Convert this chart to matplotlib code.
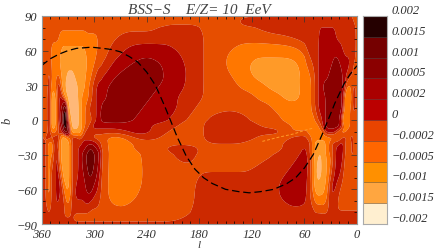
import numpy as np
import matplotlib
matplotlib.use('Agg')
import matplotlib.pyplot as plt

plt.rcParams['font.family'] = ['Liberation Serif', 'DejaVu Serif']
plt.rcParams['font.style'] = 'italic'

# levels of the contour map and their colours (map and colour bar differ a bit)
levels = [-0.002, -0.0015, -0.001, -0.0005, -0.0002, 0, 0.0002, 0.0005, 0.001, 0.0015, 0.002]
level_labels = ['\u22120.002', '\u22120.0015', '\u22120.001', '\u22120.0005', '\u22120.0002', '0',
                '0.0002', '0.0005', '0.001', '0.0015', '0.002']
map_colors = ['#FFEFD0', '#FFB878', '#FF9A28', '#FF7700', '#E64E00', '#CC2900', '#AA0000', '#8B0000', '#6B0000', '#250000']
bar_colors = ['#FFEFD0', '#FFA640', '#FF9000', '#FF6600', '#E84400', '#BB0000', '#AA0000', '#8B0000', '#750000', '#250000']

# longitude and latitude of the table below
map_l = [360, 357, 354, 351, 348, 345, 342, 339, 336, 333, 330, 327, 324, 320, 316, 312, 308, 304, 300, 295, 290,
         280, 270, 260, 250, 240, 230, 220, 210, 200, 190, 180, 170, 160, 150, 140, 130, 120, 110, 100, 90, 80, 70,
         60, 55, 50, 46, 42, 38, 34, 30, 26, 22, 18, 14, 10, 6, 3, 0]
map_b = [90, 85, 80, 70, 60, 50, 40, 30, 20, 10, 0, -5, -10, -15, -20, -25, -30, -40, -50, -60, -70, -80, -85, -90]

# anisotropy, in units of 1e-4, one row per latitude
map_values = [
    [-1]*59,
    [-1]*21 + [-1]*14 + [1, 1.5, 2, 2, 2, 2, 2, 2] + [2]*14 + [-1, -1],
    [1] + [-1]*20 + [-1]*6 + [1]*5 + [-1]*5 + [-.6, -.2] + [1.5]*4 + [1.5]*15 + [-1],
    [1, -1, -1, -1, -1, -1, -1, -3, -3, -3, -3, -3, -3, -3, -3, -3, -3, -3, -3, -3, -1,
     -1, 1, 1, 1, 1, 1, 1, 1, 1, 1, 1, -1, -1, -1, -1, -1, -1, -1, -1, -1, -.2, 1,
     1, 1, 1, 1, 3, 3, 3, 3, 3, 1, 1, 1, 1, 1, 1, -1],
    [1, -1, -1, -1, -3, -3, -3, -3, -7, -7, -7, -7, -7, -7, -7, -7, -3, -3, -3, -1, -1,
     1, 1, 3, 3, 3, 3, 3, 3, 1, 1, 1, -1, -1, -1, -3, -3, -3, -3, -3, -3, -3, -3,
     -1, 1, 1, 1, 3, 3, 3, 3, 3, 3, 3, 1, 1, 1, 1, -1],
    [1, -1, -1, -1, -3, -7, -7, -7, -7, -7, -7, -7, -7, -7, -7, -7, -7, -3, -3, -1, -1,
     1, 3, 3, 7, 7, 7, 3, 3, 3, 1, 1, -1, -1, -3, -3, -3, -7, -7, -7, -7, -7, -7,
     -3, -1, 1, 1, 3, 3, 3, 3, 7, 7, 3, 3, 3, 3, 1, -1],
    [1, -1, -1, 1, -1, -3, -1, -3, -7, -7, -12, -12, -12, -7, -7, -7, -3, -3, -1, 1, 1,
     3, 7, 7, 7, 7, 7, 7, 3, 3, 1, 1, -1, -1, -1, -3, -3, -7, -7, -7, -7, -7, -7,
     -3, -3, -1, 1, 3, 3, 3, 7, 7, 7, 7, 3, 3, -1, -3, -1],
    [1, -1, -1, 1, -3, -3, 1, 1, -7, -12, -12, -12, -12, -12, -7, -7, -3, -1, 1, 3, 3,
     7, 7, 7, 7, 7, 7, 3, 3, 3, 1, 1, -1, -1, -1, -1, -3, -3, -3, -7, -7, -7, -7,
     -3, -3, -1, 1, 3, 7, 7, 7, 7, 7, 7, 3, -3, -1, 1, -1],
    [1, -1, -1, 3, -7, -7, -1, 3, 1, -7, -12, -12, -12, -12, -7, -3, -3, -1, 1, 3, 3,
     7, 7, 7, 7, 7, 3, 3, 3, 1, 1, 1, -1, -1, -1, -1, -1, -1, -3, -3, -3, -7, -7,
     -3, -3, -1, 1, 3, 3, 7, 7, 7, 7, 7, -3, -7, -1, 1, -1],
    [1, -1, -1, 3, -7, -7, -1, 3, 7, 20, -3, -14, -14, -14, -7, -3, -1, 1, 1, 3, 7,
     7, 7, 7, 7, 3, 3, 3, 3, 1, 1, -1, -1, -1, -.5, -.5, -1, -1, -1, -1, -3, -3, -3,
     -3, -3, -1, 1, 3, 3, 7, 7, 7, 7, 7, -3, -3, -1, 1, -1],
    [1, -1, -1, 3, -7, -7, -1, 3, 12, 22, 3, -7, -14, -14, -7, -3, -1, -1, 1, 3, 7,
     7, 7, 7, 3, 3, 3, 3, 1, 1, -1, -1, .3, 1, 1.8, 1.8, .8, -.3, -1, -1, -1, -3, -3,
     -3, -3, -3, -1, 1, 3, 7, 7, 7, 7, 1, -7, -3, -1, -1, -1],
    [1, -1, -1, 3, -7, -7, -1, 1, 7, 22, 7, -3, -14, -14, -7, -3, -1, 1, 3, 3, 3,
     3, 3, 3, 3, 3, 1, 1, 1, -1, -1, -1, 1, 1, 1, 1, 1, 1, -.1, -1, -1, -1, -3,
     -3, -3, -3, -3, -1, 3, 7, 7, 7, 7, 3, -3, -3, -1, -1, -1],
    [1, -1, -1, 1, -3, -3, -1, 1, 3, 12, 12, -1, -7, -7, -7, -1, 1, 1, 1, 1, 1,
     1, 1, 3, 3, 3, 1, 1, -1, -1, -1, -1, 1, 1, 1, 1, 1, 1, 1, 1, 1, -1, -3,
     -1, -3, -3, -3, -3, -1, 3, 3, 3, -1, -3, -3, -1, -1, -1, -1],
    [1, -1, 1, 1, 1, 1, 1, -1, -7, -7, -3, -1, 1, 1, -1, 1, 1, 1, -1, -1, -1,
     -3, -3, -1, 1, 1, 1, -1, -1, -1, -1, -1, 1, 1, 1, 1, 1, 1, -1, -1, -1, -1, 1,
     1, -1, -3, -3, -3, -3, -3, -3, -3, -3, -1, 1, -1, 1, -1, -1],
    [1, 1, -1, -3, -3, 1, 1, -3, -7, -7, -7, -3, 1, 1, 1, 3, 3, 3, 3, 1, -1,
     -3, -3, -3, -1, -1, -1, -1, -1, -1, -1, -1, .2, .2, .2, .2, .2, -1, -1, -1, -1, 1, 1,
     1, 1, -3, -7, -7, -7, -3, -1, 1, 1, 3, 1, -3, 1, -1, -1],
    [1, 1, -1, -3, -3, 1, 1, -3, -7, -7, -7, -3, 1, 1, 3, 3, 7, 12, 7, 3, -1,
     -3, -3, -3, -1, -1, -1, -1, 2, 2, 2, -1, -1, -1, -1, -1, -1, -1, -1, -1, -1, 1, 1,
     3, 1, -3, -7, -7, -7, -3, -1, 1, 3, 3, 1, -3, 1, -1, -1],
    [1, 1, -1, -3, -3, 1, 3, -3, -7, -7, -7, -3, 1, 1, 3, 7, 12, 12, 12, 7, -1,
     -3, -3, -3, -3, -1, -1, -1, -1, 2, 2, -1, -1, -1, -1, -1, -1, -1, -1, -1, 1, 1, 1,
     3, 1, -3, -7, -12, -7, -3, -1, 1, 3, 3, 1, -3, 1, -1, -1],
    [1, 1, -1, -3, 1, 1, 3, -3, -7, -12, -7, -3, 1, 1, 3, 7, 12, 12, 12, 3, -1,
     -3, -3, -3, -3, -1, -1, -1, -1, -1, -1, -1, -1, -1, -1, -1, -1, -1, 1, 1, 1, 1, 3,
     3, 3, -3, -12, -12, -7, -7, -3, 1, 3, 3, -1, -3, -1, -1, -1],
    [1, 1, -1, -3, 1, 1, 3, 3, -3, -7, -7, -3, 1, 1, 3, 3, 7, 12, 7, 3, -1,
     -3, -3, -3, -3, -1, -1, -1, -1, -1, -1, 1, 1, 1, 1, 1, 1, 1, 1, 1, 1, 3, 3,
     3, 1, -3, -12, -12, -7, -3, 1, 3, 3, 1, -1, -1, -1, -1, -1],
    [1, 1, -1, -3, 1, 1, 3, 3, 1, -3, -7, -3, 1, 3, 3, 3, 7, 7, 3, 1, -1,
     -3, -3, -3, -3, -1, -1, -1, -1, -1, -1, 1, 1, 1, 1, 1, 1, 1, 1, 1, 3, 3, 3,
     3, 1, -3, -7, -7, -7, -3, 3, 3, 1, -1, -1, -1, -1, -1, -1],
    [1, 1, -1, -3, 1, 1, 3, 1, 1, -1, -3, -1, 1, 3, 3, 3, 3, 1, 1, 1, -1,
     -3, -3, -3, -1, -1, -1, -1, -1, -1, -1, 1, 1, 1, 1, 1, 1, 1, 1, 1, 1, 3, 3,
     3, 1, -1, -3, -3, -3, -1, 1, 1, -1, -1, -1, -1, -1, -1, -1],
    [1]*13 + [-1]*8 + [-1]*9 + [-.2] + [1]*12 + [1]*5 + [.3]*11,
    [1]*6 + [-1]*15 + [-1]*8 + [-.3] + [1]*13 + [1]*16,
    [1]*59,
]

# dashed curve
curve_l = [360, 350, 340, 330, 320, 303, 290, 280, 270, 260, 250, 240, 230, 220, 213, 205, 195, 185, 175, 165,
           150, 135, 123, 110, 95, 80, 70, 60, 50, 40, 33, 25, 15, 8, 0]
curve_b = [47, 53, 57, 60, 62, 63, 62, 61, 59, 55, 50, 41.5, 30, 13, 0, -15, -31, -42.5, -50, -55,
           -60, -62, -63, -62, -60, -55, -50, -41.5, -30, -13, 0, 15, 31, 39.5, 47]

# thin light streak next to the plane
streak_l = [108, 90, 72, 60, 50]
streak_b = [-18.5, -15, -12, -9, -7]


def box(t, width, axis):
    k = np.ones(width) / width
    p = np.pad(t, width, mode='edge')
    p = np.apply_along_axis(lambda r: np.convolve(r, k, mode='same'), axis, p)
    return p[width:-width, width:-width]


def refine(table, xs, ys, n=4):
    # rounds the contour corners of the coarse table, widths in table cells
    ix = np.arange(0, len(xs) - 1 + 1e-9, 1 / n)
    iy = np.arange(0, len(ys) - 1 + 1e-9, 1 / n)
    t = np.array([np.interp(ix, np.arange(len(xs)), row) for row in table])
    t = np.array([np.interp(iy, np.arange(len(ys)), col) for col in t.T]).T
    t = box(box(t, n + 1, 1), n + 1, 0)
    # wide cells of the middle columns and the outer rows get a wider corner
    xw = np.clip(np.minimum(ix - 19, 44 - ix) / 3, 0, 1)
    yw = np.clip(np.maximum(8 - iy, iy - 15) / 2, 0, 1)
    t = t + xw * (box(t, 2 * n + 1, 1) - t)
    t = t + yw[:, None] * (box(t, 2 * n + 1, 0) - t)
    return np.interp(ix, np.arange(len(xs)), xs), np.interp(iy, np.arange(len(ys)), ys), t


fig = plt.figure(figsize=(4.36, 2.53), dpi=100)
ax = fig.add_axes([41.5/436, 1 - 225/253, (357 - 41.5)/436, (225 - 17)/253])

grid_l, grid_b, values = refine(map_values, map_l, map_b)
values = np.clip(values * 1e-4, -0.00199, 0.00199)
ax.contourf(grid_l, grid_b, values, levels=levels, colors=map_colors, antialiased=True)
ax.plot(streak_l, streak_b, color='#FF9A28', lw=0.7, dashes=(3, 2))
ax.plot(curve_l, curve_b, color='black', lw=0.9, dashes=(6, 3))

ax.set_xlim(360, 0)
ax.set_ylim(-90, 90)
ax.set_xticks(np.arange(0, 361, 60))
ax.set_xticks(np.arange(0, 361, 10), minor=True)
ax.set_yticks(np.arange(-90, 91, 30))
ax.set_yticks(np.arange(-90, 91, 10), minor=True)
ax.tick_params(which='major', direction='in', length=4, width=0.5, top=True, right=True, labelsize=9, colors='#333333', pad=3)
ax.tick_params(which='minor', direction='in', length=2, width=0.5, top=True, right=True)
ax.set_yticklabels(['\u221290', '\u221260', '\u221230', '0', '30', '60', '90'])
for s in ax.spines.values():
    s.set_color('#999999')
    s.set_linewidth(0.8)

ax.set_xlabel('l', fontsize=8, color='#333333', labelpad=0)
ax.set_ylabel('b', fontsize=9, color='#333333', labelpad=2)
ax.set_title('BSS\u2212S    E/Z= 10  EeV', fontsize=11, color='#444444', pad=2)

# colour bar
cax = fig.add_axes([363/436, 1 - 225/253, 24/436, (225 - 17)/253])
for i, c in enumerate(bar_colors):
    cax.bar(0.5, 1, width=1, bottom=i, color=c, edgecolor='#00000066', linewidth=0.4)
cax.set_xlim(0, 1)
cax.set_ylim(0, 10)
cax.set_xticks([])
cax.yaxis.tick_right()
cax.set_yticks(range(11))
cax.set_yticklabels(level_labels, fontsize=9, color='#333333', va='bottom')
cax.tick_params(length=0, pad=3)
for s in cax.spines.values():
    s.set_color('#aaaaaa')
    s.set_linewidth(0.8)

plt.savefig('out.png', dpi=100)
